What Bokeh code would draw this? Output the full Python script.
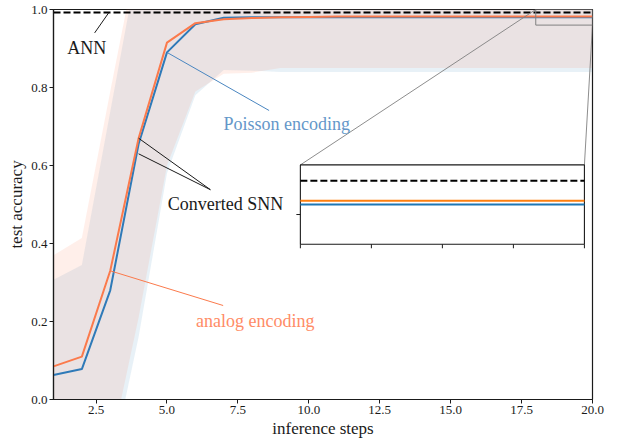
import math
from bokeh.plotting import figure
from bokeh.models import Range1d, FixedTicker, NumeralTickFormatter
from bokeh.embed import file_html
from bokeh.resources import INLINE
from bokeh.core.properties import value

# ---------------- data ----------------
steps = list(range(1, 21))
ann_accuracy = 0.992

poisson_mean = [0.063, 0.078, 0.28, 0.655, 0.89, 0.962, 0.979, 0.980, 0.980, 0.980,
                0.980, 0.980, 0.980, 0.980, 0.980, 0.980, 0.980, 0.980, 0.980, 0.980]
analog_mean = [0.085, 0.11, 0.33, 0.67, 0.915, 0.965, 0.975, 0.978, 0.980, 0.981,
               0.982, 0.982, 0.982, 0.982, 0.982, 0.982, 0.982, 0.982, 0.982, 0.982]

poisson_upper = [0.307, 0.345, 0.738, 1.13, 1.12, 1.10, 1.10, 1.10, 1.10, 1.10,
                 1.10, 1.10, 1.10, 1.10, 1.10, 1.10, 1.10, 1.10, 1.10, 1.10]
poisson_lower = [-0.20, -0.20, -0.18, 0.16, 0.58, 0.78, 0.845, 0.843, 0.84, 0.84,
                 0.84, 0.84, 0.84, 0.84, 0.84, 0.84, 0.84, 0.84, 0.84, 0.84]
analog_upper = [0.37, 0.414, 0.79, 1.16, 1.15, 1.12, 1.10, 1.10, 1.10, 1.10,
                1.10, 1.10, 1.10, 1.10, 1.10, 1.10, 1.10, 1.10, 1.10, 1.10]
analog_lower = [-0.20, -0.20, -0.13, 0.21, 0.60, 0.79, 0.835, 0.838, 0.85, 0.85,
                0.85, 0.85, 0.85, 0.85, 0.85, 0.85, 0.85, 0.85, 0.85, 0.85]

x_ticks = [2.5, 5.0, 7.5, 10.0, 12.5, 15.0, 17.5, 20.0]
y_ticks = [0.0, 0.2, 0.4, 0.6, 0.8, 1.0]

inset_x = [18, 20]
inset_y = [0.96, 1.0]
inset_x_ticks = [18.0, 18.5, 19.0, 19.5, 20.0]
inset_y_ticks = [0.975]

# ---------------- styles ----------------
FONT = "Liberation Serif"
BLUE = "#2f7ab8"
CORAL = "#fb7a4c"
BLUE_TXT = "#6497c9"
CORAL_TXT = "#ff8c66"
DARK = "#1a1a1a"
ANNOT_SIZE = "18px"

# inset placement as fractions of the main frame
INS_L, INS_R, INS_B, INS_T = 0.458, 0.985, 0.398, 0.6015

p = figure(width=620, height=440, output_backend="svg", toolbar_location=None,
           x_range=Range1d(1, 20), y_range=Range1d(0, 1),
           min_border_left=53, min_border_right=28, min_border_top=9, min_border_bottom=37)
p.background_fill_color = "white"
p.border_fill_color = "white"
p.outline_line_color = DARK
p.outline_line_width = 1.2
p.xgrid.visible = False
p.ygrid.visible = False

for ax in (p.xaxis, p.yaxis):
    ax.major_tick_in = 0
    ax.major_tick_out = 4
    ax.minor_tick_line_color = None
    ax.axis_line_color = DARK
    ax.axis_line_width = 1.2
    ax.major_tick_line_color = DARK
    ax.major_label_text_font = FONT
    ax.major_label_text_font_size = "13px"
    ax.major_label_text_color = DARK
    ax.axis_label_text_font = FONT
    ax.axis_label_text_font_size = "17px"
    ax.axis_label_text_font_style = "normal"
    ax.axis_label_text_color = DARK
    ax.formatter = NumeralTickFormatter(format="0.0")
    ax.major_label_standoff = 2
    ax.axis_label_standoff = 2

p.xaxis.ticker = FixedTicker(ticks=x_ticks)
p.yaxis.ticker = FixedTicker(ticks=y_ticks)
p.xaxis.axis_label = "inference steps"
p.yaxis.axis_label = "test accuracy"

# inset ranges mapped onto the same frame
xr, yr = p.x_range, p.y_range
ix_span = (inset_x[1] - inset_x[0]) / (INS_R - INS_L)
iy_span = (inset_y[1] - inset_y[0]) / (INS_T - INS_B)
ix0 = inset_x[0] - INS_L * ix_span
iy0 = inset_y[0] - INS_B * iy_span
p.extra_x_ranges = {"inset": Range1d(ix0, ix0 + ix_span)}
p.extra_y_ranges = {"inset": Range1d(iy0, iy0 + iy_span)}


def inset_to_main(x, y):
    mx = xr.start + (x - ix0) / ix_span * (xr.end - xr.start)
    my = yr.start + (y - iy0) / iy_span * (yr.end - yr.start)
    return mx, my


# bands
p.varea(x=steps, y1=poisson_lower, y2=poisson_upper, fill_color="#1f77b4", fill_alpha=0.10)
p.varea(x=steps, y1=analog_lower, y2=analog_upper, fill_color="#ff7f50", fill_alpha=0.12)

# main lines
p.line(steps, [ann_accuracy] * len(steps), line_color="black", line_width=2, line_dash="7 3")
p.line(steps, poisson_mean, line_color=BLUE, line_width=2)
p.line(steps, analog_mean, line_color=CORAL, line_width=2)

# zoom indicator rectangle
p.quad(left=inset_x[0], right=inset_x[1], bottom=inset_y[0], top=inset_y[1],
       fill_color=None, line_color="#808080", line_width=1)

# connectors
ul = inset_to_main(inset_x[0], inset_y[1])
ur = inset_to_main(inset_x[1], inset_y[1])
p.line([ul[0], inset_x[0]], [ul[1], inset_y[1]], line_color="#808080", line_width=0.9)
p.line([ur[0], inset_x[1]], [ur[1], inset_y[0]], line_color="#808080", line_width=0.9)

# inset
p.quad(left=inset_x[0], right=inset_x[1], bottom=inset_y[0], top=inset_y[1],
       fill_color="white", line_color=DARK, line_width=1.1,
       x_range_name="inset", y_range_name="inset")
zs = steps[-3:]
p.line(zs, [ann_accuracy] * len(zs), line_color="black", line_width=2, line_dash="7 3",
       x_range_name="inset", y_range_name="inset")
p.line(zs, poisson_mean[-3:], line_color="#1f77b4", line_width=2,
       x_range_name="inset", y_range_name="inset")
p.line(zs, analog_mean[-3:], line_color="#ff7f0e", line_width=2,
       x_range_name="inset", y_range_name="inset")
p.ray(x=inset_x_ticks, y=[inset_y[0]] * len(inset_x_ticks), length=4, length_units="screen",
      angle=-math.pi / 2, line_color=DARK, line_width=1,
      x_range_name="inset", y_range_name="inset")
p.ray(x=[inset_x[0]] * len(inset_y_ticks), y=inset_y_ticks, length=4, length_units="screen",
      angle=math.pi, line_color=DARK, line_width=1,
      x_range_name="inset", y_range_name="inset")

# annotations
p.line([2.45, 2.95], [0.94, ann_accuracy], line_color=DARK, line_width=1)
p.text(x=[2.17], y=[0.902], text=["ANN"], text_font=value(FONT), text_font_size=ANNOT_SIZE,
       text_color=DARK, text_align="center", text_baseline="alphabetic")

p.line([steps[4], 8.6], [poisson_mean[4], 0.741], line_color="#4a86c0", line_width=1)
p.text(x=[9.22], y=[0.706], text=["Poisson encoding"], text_font=value(FONT),
       text_font_size=ANNOT_SIZE, text_color=BLUE_TXT, text_align="center",
       text_baseline="alphabetic")

p.line([steps[3], 6.53], [analog_mean[3], 0.538], line_color=DARK, line_width=1)
p.line([steps[3], 6.53], [0.63, 0.538], line_color=DARK, line_width=1)
p.text(x=[7.06], y=[0.5025], text=["Converted SNN"], text_font=value(FONT),
       text_font_size=ANNOT_SIZE, text_color=DARK, text_align="center",
       text_baseline="alphabetic")

p.line([steps[2], 6.98], [analog_mean[2], 0.241], line_color=CORAL, line_width=1)
p.text(x=[8.11], y=[0.2005], text=["analog encoding"], text_font=value(FONT),
       text_font_size=ANNOT_SIZE, text_color=CORAL_TXT, text_align="center",
       text_baseline="alphabetic")

open("out.html", "w").write(file_html(p, INLINE))
